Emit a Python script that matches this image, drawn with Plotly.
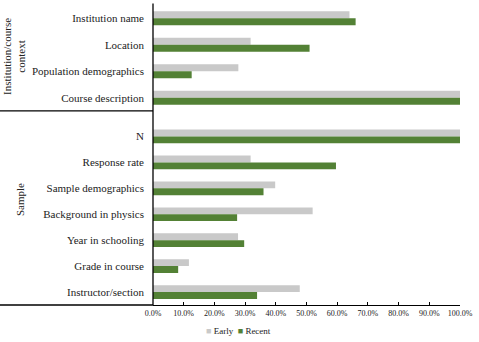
import plotly.graph_objects as go
from plotly.subplots import make_subplots

# Данные
context_items = ["Institution name", "Location", "Population demographics", "Course description"]
context_early = [0.64, 0.318, 0.278, 1.0]
context_recent = [0.66, 0.51, 0.126, 1.0]

sample_items = ["N", "Response rate", "Sample demographics", "Background in physics",
                "Year in schooling", "Grade in course", "Instructor/section"]
sample_early = [1.0, 0.318, 0.398, 0.52, 0.277, 0.117, 0.478]
sample_recent = [1.0, 0.596, 0.36, 0.274, 0.297, 0.082, 0.339]

x_ticks = [i / 10 for i in range(11)]

GRAY = "#c9c9c9"
GREEN = "#538135"
FONT = "Liberation Serif"
INK = "#222222"

fig = make_subplots(rows=2, cols=1, shared_xaxes=True, row_heights=[4, 7], vertical_spacing=0.03)

# Верхняя группа: контекст
fig.add_trace(go.Bar(y=context_items, x=context_early, orientation="h", name="Early",
                     marker_color=GRAY), row=1, col=1)
fig.add_trace(go.Bar(y=context_items, x=context_recent, orientation="h", name="Recent",
                     marker_color=GREEN), row=1, col=1)

# Нижняя группа: выборка
fig.add_trace(go.Bar(y=sample_items, x=sample_early, orientation="h", name="Early",
                     marker_color=GRAY), row=2, col=1)
fig.add_trace(go.Bar(y=sample_items, x=sample_recent, orientation="h", name="Recent",
                     marker_color=GREEN), row=2, col=1)

fig.update_layout(
    template="none",
    width=479, height=342,
    margin=dict(l=153, r=19, t=5, b=37),
    plot_bgcolor="white", paper_bgcolor="white",
    barmode="group", bargap=0.47, bargroupgap=0,
    font=dict(family=FONT, size=10, color=INK),
    showlegend=False,
)

fig.update_yaxes(autorange="reversed", showgrid=False, ticks="", ticklabelstandoff=8,
                 showline=False, zeroline=False,
                 tickfont=dict(family=FONT, size=11, color=INK))
fig.update_layout(yaxis=dict(domain=[0.647, 1.0]), yaxis2=dict(domain=[0.0, 0.605]))

fig.update_xaxes(range=[0, 1], showgrid=False, zeroline=False)
fig.update_xaxes(tickvals=x_ticks, tickformat=".1%", ticks="inside", ticklen=3,
                 tickcolor="black", showline=True, linecolor="black", linewidth=1,
                 tickfont=dict(family=FONT, size=8, color=INK), row=2, col=1)

# Линии осей и разделитель групп
fig.add_shape(type="line", xref="paper", yref="paper", x0=0, x1=0, y0=0, y1=1.005,
              line=dict(color="black", width=1.3))
fig.add_shape(type="line", xref="paper", yref="paper", x0=-0.5, x1=0, y0=0, y1=0,
              line=dict(color="black", width=1.3))
fig.add_shape(type="line", xref="paper", yref="paper", x0=-0.5, x1=0, y0=0.647, y1=0.647,
              line=dict(color="black", width=1.3))

# Подписи групп
fig.add_annotation(text="Institution/course<br>context", xref="paper", yref="paper",
                   x=-0.453, y=0.83, xanchor="center", yanchor="middle", showarrow=False,
                   textangle=-90, font=dict(family=FONT, size=11, color=INK), align="center")
fig.add_annotation(text="Sample", xref="paper", yref="paper",
                   x=-0.433, y=0.35, xanchor="center", yanchor="middle", showarrow=False,
                   textangle=-90, font=dict(family=FONT, size=11, color=INK))

# Легенда
legend_text = (f"<span style='color:{GRAY}'>■</span> Early  "
               f"<span style='color:{GREEN}'>■</span> Recent")
fig.add_annotation(text=legend_text, xref="paper", yref="paper",
                   x=0.278, y=-0.085, xanchor="center", yanchor="middle", showarrow=False,
                   font=dict(family=FONT, size=9, color=INK))

fig.write_html("out.html", config={"displayModeBar": False},
               post_script="document.body.style.margin='0';")
